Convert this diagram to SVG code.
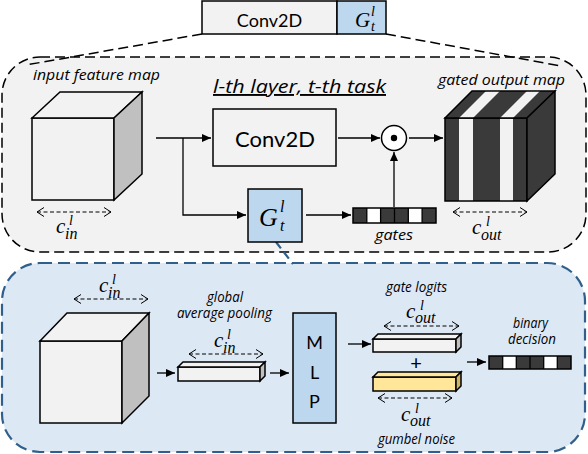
<svg xmlns="http://www.w3.org/2000/svg" width="588" height="454" viewBox="0 0 588 454">
<defs>
<marker id="ah" markerUnits="userSpaceOnUse" markerWidth="10" markerHeight="8" refX="9" refY="4" orient="auto"><path d="M0,0 L9,4 L0,8 z" fill="#000"/></marker>
<marker id="chev" markerUnits="userSpaceOnUse" markerWidth="10" markerHeight="12" refX="8" refY="5" orient="auto-start-reverse"><path d="M1,0.5 L8,5 L1,9.5" fill="none" stroke="#000" stroke-width="1"/></marker>
<style>
.sans{font-family:Lato,"Open Sans","Liberation Sans",sans-serif;fill:#000}
.it{font-family:"Open Sans",Lato,"Liberation Sans",sans-serif;font-style:italic;fill:#000}
.m{font-family:"Liberation Serif","DejaVu Serif",serif;font-style:italic;fill:#000}
.arr{stroke:#000;stroke-width:1.3;fill:none;marker-end:url(#ah)}
.dim{stroke:#000;stroke-width:1;fill:none;stroke-dasharray:4 2.5;marker-start:url(#chev);marker-end:url(#chev)}
.box{stroke:#000;stroke-width:1.5}
.light{fill:#f2f2f2}
.side{fill:#c0c0c0}
.dark{fill:#3a3a3a}
.blue{fill:#bdd7ee}
</style>
</defs>

<!-- panels -->
<g id="top-panel">
<rect x="2" y="57" width="584" height="195" rx="38" ry="38" fill="#f2f2f2" stroke="#000" stroke-width="1.5" stroke-dasharray="10 5"/>
</g>
<g id="bottom-panel">
<rect x="2" y="263" width="583" height="189" rx="38" ry="38" fill="#dde8f5" stroke="#2f5f8a" stroke-width="2.2" stroke-dasharray="12 6"/>
</g>

<!-- layer box at top -->
<g id="layer-box">
<rect x="202" y="1" width="135" height="33" fill="#f2f2f2" class="box"/>
<rect x="337" y="1" width="49" height="33" class="box blue"/>
<text x="269.5" y="27" class="sans" font-size="18" text-anchor="middle">Conv2D</text>
<text class="m"><tspan x="355" y="27" font-size="21">G</tspan><tspan x="371" y="16" font-size="14">l</tspan><tspan x="371" y="31" font-size="14">t</tspan></text>
</g>

<g id="connectors">
<line x1="202" y1="34" x2="26" y2="65" stroke="#000" stroke-width="1.5" stroke-dasharray="10 5"/>
<line x1="386" y1="34" x2="561" y2="66" stroke="#000" stroke-width="1.5" stroke-dasharray="10 5"/>
<line x1="276" y1="242" x2="293" y2="264" stroke="#2f5f8a" stroke-width="2.2" stroke-dasharray="8 5"/>
<!-- top flow -->
<line x1="156" y1="138" x2="211" y2="138" class="arr"/>
<polyline points="183,138 183,215 246,215" class="arr"/>
<line x1="338" y1="138" x2="380" y2="138" class="arr"/>
<line x1="409" y1="138" x2="443" y2="138" class="arr"/>
<line x1="394" y1="207" x2="394" y2="152" class="arr"/>
<line x1="306" y1="215" x2="351" y2="215" class="arr"/>
<!-- bottom flow -->
<line x1="157" y1="373" x2="175" y2="373" class="arr"/>
<line x1="270" y1="373" x2="289" y2="373" class="arr"/>
<line x1="348" y1="344" x2="371" y2="344" class="arr"/>
<line x1="467" y1="362" x2="486" y2="362" class="arr"/>
</g>

<!-- top panel content -->
<g id="input-feature-map">
<text x="33" y="80" class="it" font-size="15" textLength="127" lengthAdjust="spacingAndGlyphs">input feature map</text>
<rect x="32" y="118" width="82" height="82" class="box light"/>
<polygon points="32,118 60,92 142,92 114,118" class="box light"/>
<polygon points="114,118 142,92 142,174 114,200" class="box side"/>
<line x1="37" y1="212" x2="111" y2="212" class="dim"/>
<text class="m"><tspan x="56" y="233" font-size="21">c</tspan><tspan x="69" y="225" font-size="14">l</tspan><tspan x="65" y="239" font-size="16">in</tspan></text>
</g>

<g id="title">
<text x="213" y="93" class="it" font-size="19" text-decoration="underline" textLength="173" lengthAdjust="spacingAndGlyphs">l-th layer, t-th task</text>
</g>

<g id="conv2d">
<rect x="213" y="109" width="123" height="57" fill="#f2f2f2" class="box"/>
<text x="275" y="147" class="sans" font-size="22" text-anchor="middle">Conv2D</text>
</g>

<g id="multiply">
<circle cx="394" cy="138" r="12.5" fill="#fff" class="box"/>
<circle cx="394" cy="138" r="3.2" fill="#000"/>
</g>

<g id="gate-module">
<rect x="248" y="189" width="54" height="53" class="box blue"/>
<text class="m"><tspan x="259" y="226" font-size="26">G</tspan><tspan x="280" y="212" font-size="16">l</tspan><tspan x="280" y="231" font-size="16">t</tspan></text>
</g>

<g id="gates">
<rect x="353" y="208" width="83" height="15" class="dark"/>
<rect x="366.8" y="208" width="13.8" height="15" fill="#fff"/>
<rect x="408.3" y="208" width="13.8" height="15" fill="#fff"/>
<g stroke="#000" stroke-width="1.3"><line x1="366.8" y1="208" x2="366.8" y2="223"/><line x1="380.6" y1="208" x2="380.6" y2="223"/><line x1="394.5" y1="208" x2="394.5" y2="223"/><line x1="408.3" y1="208" x2="408.3" y2="223"/><line x1="422.1" y1="208" x2="422.1" y2="223"/></g>
<rect x="353" y="208" width="83" height="15" fill="none" class="box"/>
<text x="375" y="240" class="it" font-size="15" textLength="38" lengthAdjust="spacingAndGlyphs">gates</text>
</g>

<g id="gated-output-map">
<text x="438" y="85" class="it" font-size="15" textLength="127" lengthAdjust="spacingAndGlyphs">gated output map</text>
<rect x="445" y="118" width="82" height="83" class="dark"/>
<rect x="459" y="118" width="14" height="83" fill="#f2f2f2"/>
<rect x="500" y="118" width="13" height="83" fill="#f2f2f2"/>
<rect x="445" y="118" width="82" height="83" fill="none" class="box"/>
<polygon points="445,118 472,91 555,91 527,118" class="dark"/>
<polygon points="459,118 473,118 500,91 486,91" fill="#f2f2f2"/>
<polygon points="500,118 513,118 540,91 527,91" fill="#f2f2f2"/>
<polygon points="445,118 472,91 555,91 527,118" fill="none" class="box"/>
<polygon points="527,118 555,91 555,174 527,201" class="box dark"/>
<line x1="453" y1="212" x2="527" y2="212" class="dim"/>
<text class="m"><tspan x="472" y="234" font-size="21">c</tspan><tspan x="486" y="226" font-size="14">l</tspan><tspan x="481" y="240" font-size="16">out</tspan></text>
</g>

<!-- bottom panel content -->
<g id="input-cube">
<line x1="74" y1="299" x2="148" y2="299" class="dim"/>
<text class="m"><tspan x="99" y="292" font-size="21">c</tspan><tspan x="112" y="284" font-size="14">l</tspan><tspan x="108" y="298" font-size="16">in</tspan></text>
<rect x="40" y="341" width="82" height="82" class="box light"/>
<polygon points="40,341 67,313 149,313 122,341" class="box light"/>
<polygon points="122,341 149,313 149,396 122,423" class="box side"/>
</g>

<g id="global-average-pooling">
<text x="207" y="302" class="it" font-size="14" textLength="36" lengthAdjust="spacingAndGlyphs">global</text>
<text x="177" y="318" class="it" font-size="14" textLength="95" lengthAdjust="spacingAndGlyphs">average pooling</text>
<line x1="189" y1="354" x2="263" y2="354" class="dim"/>
<text class="m"><tspan x="214" y="347" font-size="21">c</tspan><tspan x="227" y="339" font-size="14">l</tspan><tspan x="223" y="353" font-size="16">in</tspan></text>
<rect x="178" y="367" width="82" height="14" class="box light"/>
<polygon points="178,367 183,362 265,362 260,367" class="box light"/>
<polygon points="260,367 265,362 265,376 260,381" class="box side"/>
</g>

<g id="mlp">
<rect x="293" y="313" width="43" height="110" class="box blue"/>
<text x="314.5" y="349" class="sans" font-size="18" text-anchor="middle">M</text>
<text x="314.5" y="379" class="sans" font-size="18" text-anchor="middle">L</text>
<text x="314.5" y="408" class="sans" font-size="18" text-anchor="middle">P</text>
</g>

<g id="gate-logits">
<text x="386" y="292" class="it" font-size="14" textLength="61" lengthAdjust="spacingAndGlyphs">gate logits</text>
<line x1="384" y1="326" x2="459" y2="326" class="dim"/>
<text class="m"><tspan x="406" y="318" font-size="21">c</tspan><tspan x="420" y="310" font-size="14">l</tspan><tspan x="415" y="323" font-size="16">out</tspan></text>
<rect x="373" y="339" width="83" height="13" class="box light"/>
<polygon points="373,339 378,334 461,334 456,339" class="box light"/>
<polygon points="456,339 461,334 461,347 456,352" class="box side"/>
</g>

<g id="plus">
<text x="416" y="370" class="sans" font-size="20" text-anchor="middle">+</text>
</g>

<g id="gumbel-noise">
<rect x="373" y="377" width="83" height="14" fill="#ffe699" class="box"/>
<polygon points="373,377 378,372 461,372 456,377" fill="#ffe699" class="box"/>
<polygon points="456,377 461,372 461,386 456,391" fill="#cdb468" class="box"/>
<line x1="378" y1="398" x2="452" y2="398" class="dim"/>
<text class="m"><tspan x="401" y="421" font-size="21">c</tspan><tspan x="415" y="413" font-size="14">l</tspan><tspan x="410" y="426" font-size="16">out</tspan></text>
<text x="378" y="444" class="it" font-size="14" textLength="77" lengthAdjust="spacingAndGlyphs">gumbel noise</text>
</g>

<g id="binary-decision">
<text x="513" y="328" class="it" font-size="14" textLength="35" lengthAdjust="spacingAndGlyphs">binary</text>
<text x="508" y="344" class="it" font-size="14" textLength="48" lengthAdjust="spacingAndGlyphs">decision</text>
<rect x="489" y="356" width="82" height="13" class="dark"/>
<rect x="502.7" y="356" width="13.7" height="13" fill="#fff"/>
<rect x="543.7" y="356" width="13.7" height="13" fill="#fff"/>
<g stroke="#000" stroke-width="1.3"><line x1="502.7" y1="356" x2="502.7" y2="369"/><line x1="516.3" y1="356" x2="516.3" y2="369"/><line x1="530" y1="356" x2="530" y2="369"/><line x1="543.7" y1="356" x2="543.7" y2="369"/><line x1="557.3" y1="356" x2="557.3" y2="369"/></g>
<rect x="489" y="356" width="82" height="13" fill="none" class="box"/>
</g>
</svg>
